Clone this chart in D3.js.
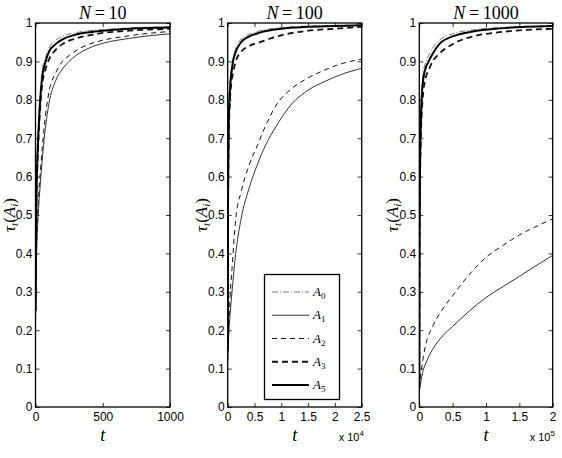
<!DOCTYPE html>
<html>
<head>
<meta charset="utf-8">
<script src="https://cdn.jsdelivr.net/npm/d3@7"></script>
<style>
  body { margin: 0; background: #fff; }
  svg { display: block; }
</style>
</head>
<body>
<svg id="drawing_region"></svg>
<script>
// ---- data ----
const panelNs = ['10', '100', '1000'];
const xTicks10 = [0, 500, 1000];
const xTicks100 = [0, 0.5, 1, 1.5, 2, 2.5];
const xTicks1000 = [0, 0.5, 1, 1.5, 2];
const xExponents = [null, '4', '5'];
const yTicks = [0, 0.1, 0.2, 0.3, 0.4, 0.5, 0.6, 0.7, 0.8, 0.9, 1];

// N = 10
const tFast10 = [0, 5, 10, 20, 35, 50, 75, 100, 150, 200, 300, 400, 500, 700, 1000];
const a0N10 = [0.25, 0.52, 0.62, 0.72, 0.82, 0.875, 0.91, 0.935, 0.955, 0.965, 0.975, 0.98, 0.983, 0.987, 0.99];
const a3N10 = [0.25, 0.48, 0.58, 0.68, 0.78, 0.84, 0.88, 0.905, 0.93, 0.945, 0.96, 0.968, 0.974, 0.98, 0.985];
const a5N10 = [0.25, 0.5, 0.6, 0.7, 0.8, 0.86, 0.9, 0.925, 0.945, 0.957, 0.97, 0.976, 0.98, 0.985, 0.988];
const tSlow10 = [0, 5, 10, 20, 40, 65, 100, 150, 200, 250, 300, 400, 500, 700, 1000];
const a1N10 = [0.22, 0.35, 0.42, 0.5, 0.6, 0.7, 0.79, 0.85, 0.88, 0.9, 0.915, 0.935, 0.947, 0.96, 0.972];
const a2N10 = [0.22, 0.37, 0.45, 0.53, 0.63, 0.73, 0.82, 0.87, 0.9, 0.915, 0.928, 0.945, 0.955, 0.967, 0.978];

// N = 100
const tFast100 = [0, 50, 100, 200, 400, 700, 1000, 1500, 2500, 4000, 6000, 10000, 15000, 20000, 25000];
const a0N100 = [0.15, 0.52, 0.64, 0.76, 0.84, 0.885, 0.91, 0.935, 0.958, 0.97, 0.98, 0.988, 0.992, 0.994, 0.995];
const a3N100 = [0.15, 0.46, 0.58, 0.7, 0.79, 0.845, 0.87, 0.9, 0.925, 0.94, 0.95, 0.968, 0.98, 0.985, 0.99];
const a5N100 = [0.15, 0.5, 0.62, 0.74, 0.82, 0.87, 0.9, 0.925, 0.95, 0.965, 0.975, 0.985, 0.99, 0.992, 0.994];
const tSlow100 = [0, 200, 500, 800, 1500, 2500, 4000, 5500, 7000, 9000, 12000, 15000, 18000, 21000, 25000];
const a1N100 = [0.12, 0.19, 0.25, 0.3, 0.4, 0.49, 0.57, 0.63, 0.68, 0.73, 0.79, 0.825, 0.847, 0.865, 0.882];
const a2N100 = [0.12, 0.21, 0.3, 0.36, 0.49, 0.56, 0.63, 0.68, 0.73, 0.785, 0.83, 0.857, 0.877, 0.893, 0.906];

// N = 1000
const tFast1000 = [0, 500, 1000, 2000, 3500, 6000, 10000, 14000, 20000, 30000, 50000, 80000, 120000, 160000, 200000];
const a0N1000 = [0.05, 0.48, 0.63, 0.75, 0.82, 0.87, 0.9, 0.915, 0.935, 0.955, 0.972, 0.982, 0.988, 0.991, 0.993];
const a3N1000 = [0.05, 0.42, 0.56, 0.68, 0.76, 0.82, 0.86, 0.877, 0.9, 0.92, 0.945, 0.965, 0.976, 0.982, 0.985];
const a5N1000 = [0.05, 0.45, 0.6, 0.72, 0.8, 0.855, 0.885, 0.9, 0.92, 0.945, 0.965, 0.978, 0.986, 0.99, 0.992];
const tSlow1000 = [0, 5000, 10000, 20000, 35000, 50000, 75000, 100000, 125000, 150000, 175000, 200000];
const a1N1000 = [0.04, 0.09, 0.115, 0.15, 0.185, 0.21, 0.25, 0.285, 0.313, 0.34, 0.368, 0.395];
const a2N1000 = [0.05, 0.12, 0.165, 0.21, 0.255, 0.29, 0.345, 0.39, 0.42, 0.448, 0.47, 0.49];

const seriesNames = ['0', '1', '2', '3', '5'];

// line styles per series
const styles = {
    '0': { color: '#777', width: 1, dash: '6,2,1,2' },
    '1': { color: '#333', width: 1, dash: null },
    '2': { color: '#111', width: 1, dash: '5,4' },
    '3': { color: '#111', width: 1.8, dash: '6,4' },
    '5': { color: '#000', width: 2, dash: null }
};

const panels = [
    { left: 35.5, right: 170, xmax: 1000, ticks: xTicks10, scaleDiv: 1,
      series: [['1', tSlow10, a1N10], ['2', tSlow10, a2N10], ['0', tFast10, a0N10], ['3', tFast10, a3N10], ['5', tFast10, a5N10]] },
    { left: 227.7, right: 361.7, xmax: 25000, ticks: xTicks100, scaleDiv: 1e4,
      series: [['1', tSlow100, a1N100], ['2', tSlow100, a2N100], ['0', tFast100, a0N100], ['3', tFast100, a3N100], ['5', tFast100, a5N100]] },
    { left: 419.3, right: 552.7, xmax: 200000, ticks: xTicks1000, scaleDiv: 1e5,
      series: [['1', tSlow1000, a1N1000], ['2', tSlow1000, a2N1000], ['0', tFast1000, a0N1000], ['3', tFast1000, a3N1000], ['5', tFast1000, a5N1000]] }
];

const plotTop = 23, plotBottom = 407;
const serif = 'Liberation Serif, Times New Roman, serif';
const sans = 'Liberation Sans, Arial, sans-serif';

const svg = d3.select('#drawing_region')
    .attr('width', 562)
    .attr('height', 458);

const yscale = d3.scaleLinear().domain([0, 1]).range([plotBottom, plotTop]);

panels.forEach((p, pi) => {
    const xscale = d3.scaleLinear().domain([0, p.xmax]).range([p.left, p.right]);
    const xlab = d3.scaleLinear().domain([0, p.xmax / p.scaleDiv]).range([p.left, p.right]);
    const g = svg.append('g');

    // clip so lines stay in the box
    const clipId = 'clip' + pi;
    g.append('clipPath').attr('id', clipId)
        .append('rect')
        .attr('x', p.left).attr('y', plotTop)
        .attr('width', p.right - p.left).attr('height', plotBottom - plotTop);

    const line = d3.line()
        .x(d => xscale(d[0]))
        .y(d => yscale(d[1]))
        .curve(d3.curveMonotoneX);

    const lines = g.append('g').attr('clip-path', `url(#${clipId})`);
    p.series.forEach(([name, ts, vs]) => {
        const st = styles[name];
        lines.append('path')
            .attr('d', line(ts.map((t, i) => [t, vs[i]])))
            .attr('fill', 'none')
            .attr('stroke', st.color)
            .attr('stroke-width', st.width)
            .attr('stroke-dasharray', st.dash);
    });

    // axes (matlab style, ticks inward on all sides)
    const yaxisL = d3.axisLeft(yscale).tickValues(yTicks).tickSize(-4).tickPadding(3)
        .tickFormat(d3.format('~g')).tickSizeOuter(0);
    const yaxisR = d3.axisRight(yscale).tickValues(yTicks).tickSize(-4).tickFormat('').tickSizeOuter(0);
    const xaxisB = d3.axisBottom(xlab).tickValues(p.ticks).tickSize(-4).tickPadding(5)
        .tickFormat(d3.format('~g')).tickSizeOuter(0);
    const xaxisT = d3.axisTop(xlab).tickValues(p.ticks).tickSize(-4).tickFormat('').tickSizeOuter(0);

    const axes = [
        [yaxisL, `translate(${p.left},0)`],
        [yaxisR, `translate(${p.right},0)`],
        [xaxisB, `translate(0,${plotBottom})`],
        [xaxisT, `translate(0,${plotTop})`]
    ];
    axes.forEach(([ax, tr]) => {
        const a = g.append('g').attr('transform', tr).call(ax);
        a.select('.domain').remove();
        a.selectAll('line').attr('stroke', '#000').attr('stroke-width', 0.8);
        a.selectAll('text')
            .attr('font-family', sans)
            .attr('font-size', '12px')
            .attr('fill', '#000');
    });

    g.append('rect')
        .attr('x', p.left).attr('y', plotTop)
        .attr('width', p.right - p.left).attr('height', plotBottom - plotTop)
        .attr('fill', 'none')
        .attr('stroke', '#000')
        .attr('stroke-width', 1.3);

    const cx = (p.left + p.right) / 2;

    // title
    const title = g.append('text')
        .attr('x', cx).attr('y', 19)
        .attr('text-anchor', 'middle')
        .attr('font-family', serif)
        .attr('font-size', '18px');
    title.append('tspan').attr('font-style', 'italic').text('N');
    title.append('tspan').text('\u2009=\u2009' + panelNs[pi]);

    // x label
    g.append('text')
        .attr('x', cx).attr('y', 441)
        .attr('text-anchor', 'middle')
        .attr('font-family', serif)
        .attr('font-style', 'italic')
        .attr('font-size', '18px')
        .text('t');

    // exponent
    if (xExponents[pi]) {
        const ex = g.append('text')
            .attr('x', p.right - 23).attr('y', 441)
            .attr('font-family', sans)
            .attr('font-size', '11px');
        ex.append('tspan').text('x 10');
        ex.append('tspan').attr('dy', -5).attr('font-size', '8px').text(xExponents[pi]);
    }

    // y label
    const yl = g.append('text')
        .attr('transform', `translate(${p.left - 21},${(plotTop + plotBottom) / 2}) rotate(-90)`)
        .attr('text-anchor', 'middle')
        .attr('font-family', serif)
        .attr('font-size', '17px');
    yl.append('tspan').attr('font-style', 'italic').text('τ');
    yl.append('tspan').attr('font-style', 'italic').attr('font-size', '11px').attr('dy', 3).text('t');
    yl.append('tspan').attr('dy', -3).text('(');
    yl.append('tspan').attr('font-style', 'italic').text('A');
    yl.append('tspan').attr('font-style', 'italic').attr('font-size', '11px').attr('dy', 3).text('i');
    yl.append('tspan').attr('dy', -3).text(')');
});

// legend in middle panel
const legend = svg.append('g');
legend.append('rect')
    .attr('x', 264.5).attr('y', 274.5)
    .attr('width', 75).attr('height', 125)
    .attr('fill', '#fff')
    .attr('stroke', '#000')
    .attr('stroke-width', 1.3);

const legendY = d3.scalePoint().domain(seriesNames).range([292, 385]);
seriesNames.forEach(name => {
    const st = styles[name];
    const y = legendY(name);
    legend.append('line')
        .attr('x1', 272).attr('x2', 309)
        .attr('y1', y).attr('y2', y)
        .attr('stroke', st.color)
        .attr('stroke-width', st.width)
        .attr('stroke-dasharray', st.dash);
    const t = legend.append('text')
        .attr('x', 313).attr('y', y + 4)
        .attr('font-family', serif)
        .attr('font-size', '13px');
    t.append('tspan').attr('font-style', 'italic').text('A');
    t.append('tspan').attr('font-size', '9px').attr('dy', 3).text(name);
});
</script>
</body>
</html>
